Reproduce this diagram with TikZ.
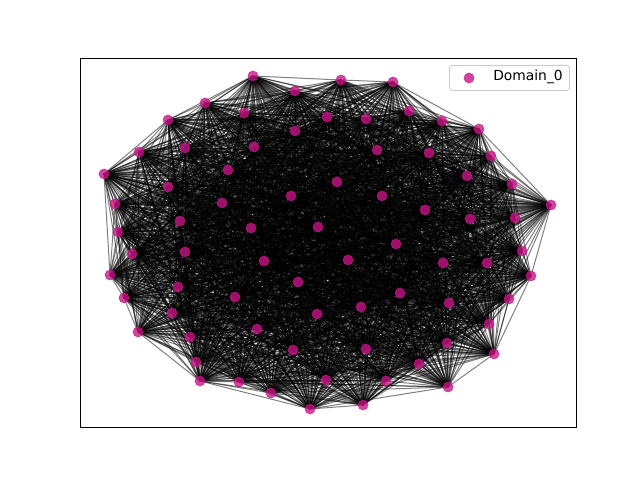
\documentclass[tikz,border=0pt]{standalone}
\usepackage{fontspec}
\setmainfont{DejaVu Sans}
\definecolor{mvr}{RGB}{199,21,133}
\pgfdeclarelayer{background}
\pgfsetlayers{background,main}
\tikzset{
  gnode/.style={circle, inner sep=0pt, minimum size=0.102in, fill=mvr, fill opacity=0.8, draw=mvr, draw opacity=0.8, line width=0.3pt},
  gedge/.style={draw=black, draw opacity=0.5, line width=0.72pt},
  frame/.style={draw=black, line width=0.8pt}
}
\begin{document}
\begin{tikzpicture}[x=0.01in, y=-0.01in]
\useasboundingbox (0,0) rectangle (640,480);
\foreach \x/\y [count=\k] in {
253/76, 295/91, 341/80, 393/82, 205/103, 244/113, 409/111, 442/121, 479/129, 168/120,
139/152, 185/148, 104/174, 491/156, 512/184, 551/205, 115/204, 118/232, 132/254, 110/275,
124/298, 138/332, 531/276, 522/251, 515/218, 509/299, 489/324, 494/354, 447/343, 448/387,
419/364, 386/381, 363/405, 310/409, 271/393, 239/382, 200/381, 196/362, 190/337, 172/313,
178/287, 295/131, 327/117, 366/119, 254/147, 377/150, 429/153, 467/176, 228/170, 168/187,
337/182, 291/196, 382/196, 222/203, 425/210, 470/219, 180/221, 251/228, 318/227, 396/244,
185/252, 487/263, 443/263, 264/261, 348/260, 298/282, 400/293, 449/303, 235/297, 361/307,
317/314, 257/329, 366/349, 293/350, 326/380}
  \node[gnode] (n\k) at (\x,\y) {};
\pgfmathsetseed{7}
\begin{pgfonlayer}{background}
\foreach \i in {1,...,74} {
  \pgfmathtruncatemacro\s{\i+1}
  \foreach \j in {\s,...,75} {
    \pgfmathrandominteger{\r}{1}{100}
    \ifnum\r<88 \draw[gedge] (n\i.center) -- (n\j.center); \fi
  }
}
\end{pgfonlayer}
\node[frame, rectangle, minimum width=4.96in, minimum height=3.69in, anchor=north west, inner sep=0pt] (axes) at (80,58) {};
\node[draw=black!20, rounded corners=2pt, fill=white, fill opacity=0.8, text opacity=1, line width=0.6pt, minimum width=1.2in, minimum height=0.25in, anchor=north west, inner sep=0pt] (legend) at (449,65) {};
\node[gnode] (lm) at (469,78) {};
\node[anchor=west, inner sep=0pt, font=\fontsize{10}{12}\selectfont] (lt) at (493,77) {Domain\_0};
\end{tikzpicture}
\end{document}
